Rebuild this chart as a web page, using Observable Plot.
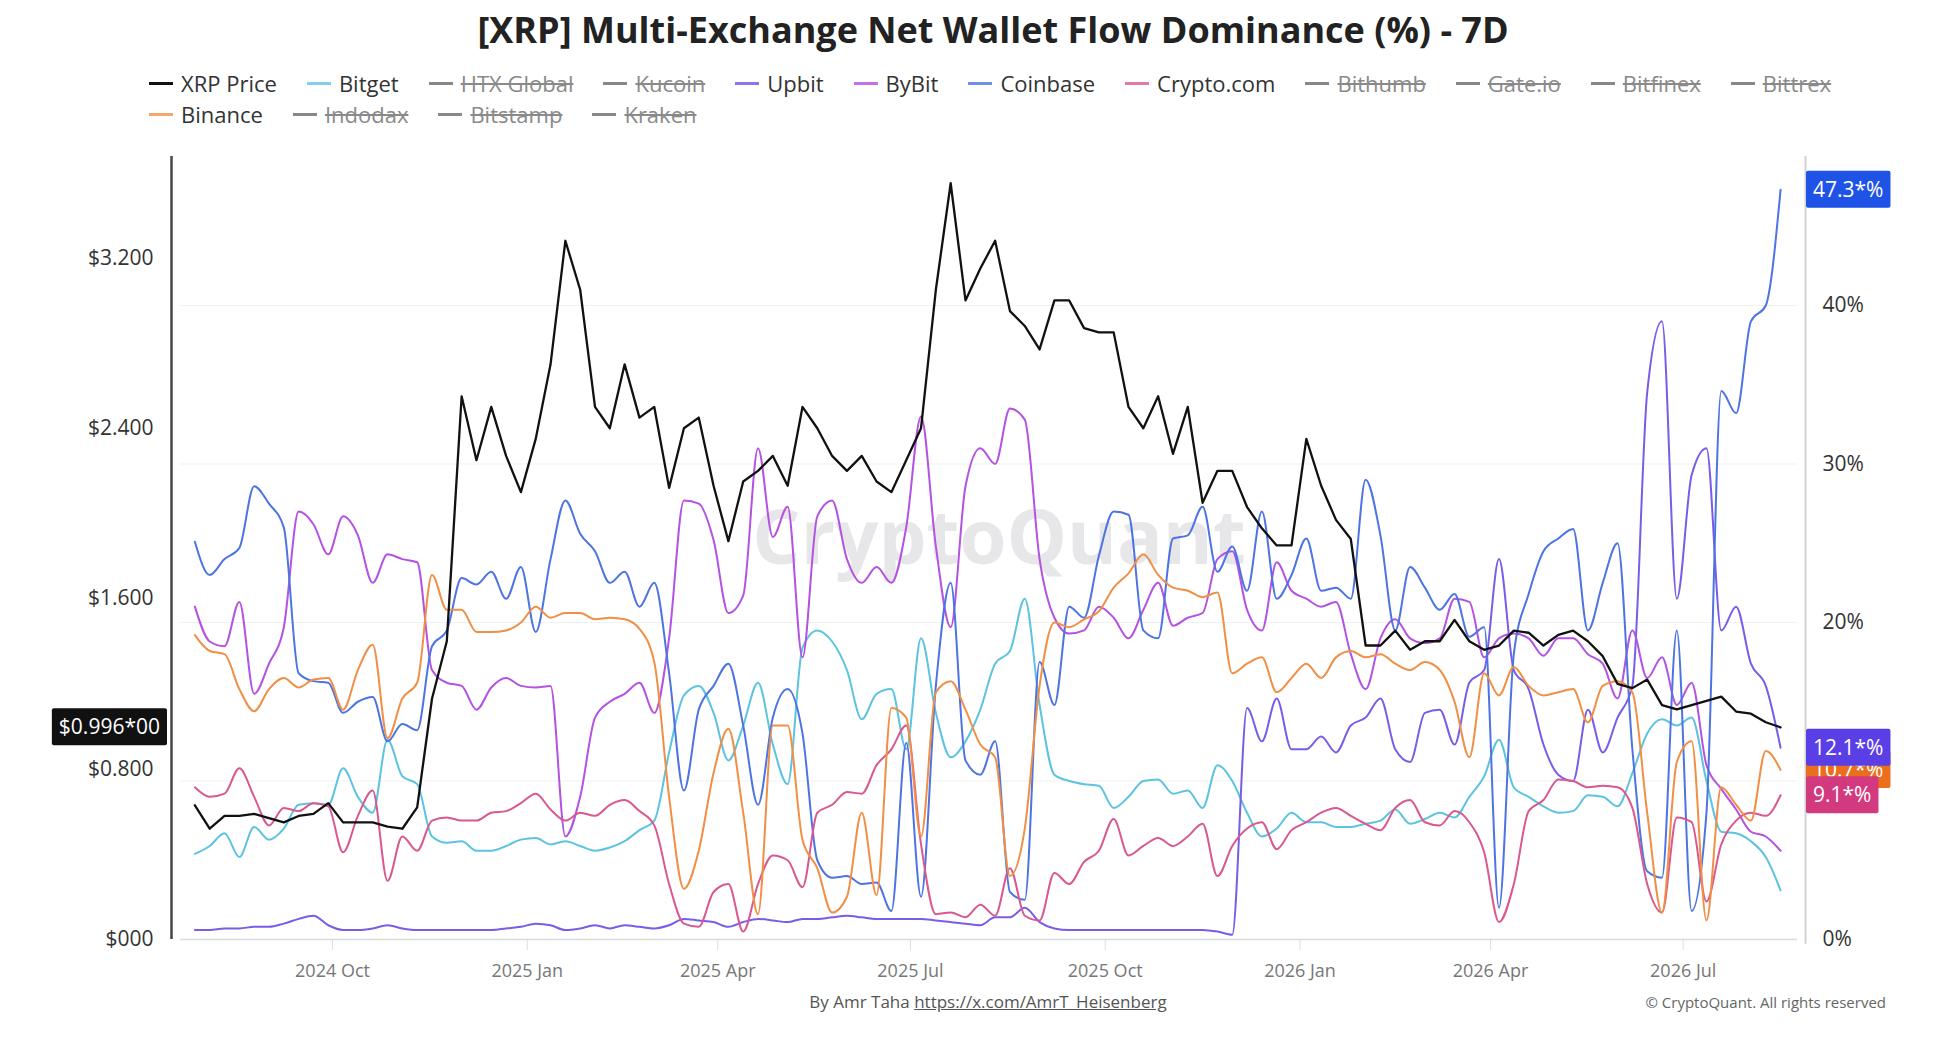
<!DOCTYPE html>
<html><head><meta charset="utf-8">
<script src="https://cdn.jsdelivr.net/npm/d3@7"></script>
<script src="https://cdn.jsdelivr.net/npm/@observablehq/plot@0.6"></script>
<style>
body{margin:0;background:#fff;width:1957px;height:1057px;position:relative;overflow:hidden;font-family:"Open Sans",sans-serif;}
#title{position:absolute;left:0;width:1986px;top:8px;text-align:center;font-weight:700;font-size:36px;color:#222;line-height:44px;}
.row{position:absolute;left:149px;height:30px;line-height:30px;font-size:22px;white-space:nowrap;display:flex;align-items:center;}
.item{display:inline-flex;align-items:center;margin-right:30px;color:#333;}
.sw{width:24px;height:3px;margin-right:8px;display:inline-block;}
.off{color:#8a8a8a;text-decoration:line-through;}
#chart{position:absolute;left:0;top:130px;}
#cap{position:absolute;left:0;width:1976px;top:990px;text-align:center;font-size:17px;color:#555;}
#cap a{color:#555;text-decoration:underline;}
#copy{position:absolute;right:71px;top:992px;font-size:15px;color:#666;}
</style></head>
<body>
<div id="title">[XRP] Multi-Exchange Net Wallet Flow Dominance (%) - 7D</div>
<div class="row" id="row1" style="top:68px"></div>
<div class="row" id="row2" style="top:99px"></div>
<div id="chart"></div>
<div id="cap">By Amr Taha <a>https://x.com/AmrT_Heisenberg</a></div>
<div id="copy">© CryptoQuant. All rights reserved</div>
<script>
// ---------- data (weekly samples) ----------
const startDate = "2024-07-28";
const priceUSD = [0.63,0.52,0.58,0.58,0.59,0.57,0.55,0.58,0.59,0.64,0.55,0.55,0.55,0.53,0.52,0.62,1.13,1.40,2.55,2.25,2.50,2.27,2.10,2.35,2.70,3.28,3.05,2.50,
 2.40,2.70,2.45,2.50,2.12,2.40,2.45,2.13,1.87,2.15,2.20,2.27,2.13,2.50,2.40,2.27,2.20,2.27,2.15,2.10,2.25,2.40,3.05,3.55,3.00,3.15,
 3.28,2.95,2.88,2.77,3.00,3.00,2.87,2.85,2.85,2.50,2.40,2.55,2.28,2.50,2.05,2.20,2.20,2.03,1.93,1.85,1.85,2.35,2.13,1.97,1.88,1.38,1.38,1.45,
 1.36,1.40,1.40,1.50,1.40,1.36,1.38,1.45,1.44,1.38,1.43,1.45,1.40,1.33,1.20,1.18,1.22,1.10,1.08,1.10,1.12,1.14,1.07,1.06,1.02,0.996];
const bitget = [5.4,5.9,6.7,5.2,7.1,6.3,7.0,8.5,8.6,8.5,10.8,9.0,8.0,12.6,10.3,9.8,6.5,6.1,6.2,5.6,5.6,5.9,6.3,6.4,6.0,6.2,5.9,5.6,
 5.8,6.2,6.9,7.5,11.8,15.4,16.0,14.3,11.3,13.5,16.2,12.3,9.8,18.4,19.5,18.8,17.0,13.9,15.5,15.8,12.0,19.0,14.3,11.5,12.5,14.5,
 17.4,18.2,21.5,14.8,10.4,10.0,9.8,9.7,8.3,9.0,10.0,10.1,9.2,9.4,8.3,11.0,10.0,8.0,6.5,7.0,8.0,7.4,7.4,7.1,7.1,7.3,7.5,8.2,
 7.3,7.6,8.0,7.7,9.0,10.3,12.6,9.6,9.0,8.4,8.0,8.1,9.1,9.0,8.4,10.5,13.0,13.9,13.5,14.0,10.0,6.8,6.7,6.2,5.2,3.1];
const upbit = [0.6,0.6,0.7,0.7,0.8,0.8,1.0,1.3,1.5,0.9,0.6,0.6,0.7,0.9,0.7,0.6,0.6,0.6,0.6,0.6,0.6,0.7,0.8,1.0,0.9,0.6,0.7,0.9,
 0.7,0.9,0.8,0.7,0.9,1.3,1.2,1.1,0.8,1.1,1.3,1.2,1.1,1.3,1.3,1.4,1.5,1.4,1.3,1.3,1.3,1.3,1.2,1.1,1.0,0.9,
 1.4,1.4,2.0,1.1,0.7,0.6,0.6,0.6,0.6,0.6,0.6,0.6,0.6,0.6,0.6,0.5,0.3,14.6,12.5,15.2,12.0,12.0,12.8,11.8,13.5,14.0,15.2,12.0,
 11.2,14.3,14.5,12.3,16.2,17.0,24.0,17.0,15.8,12.3,10.4,10.0,14.5,11.8,14.0,16.0,34.5,39.0,21.5,29.3,31.0,19.5,21.0,17.4,16.0,12.1];
const bybit = [21.0,18.8,18.5,21.3,15.5,17.4,19.7,27.0,26.2,24.3,26.7,25.5,22.5,24.3,24.0,23.8,17.0,16.2,16.0,14.5,15.9,16.5,16.0,15.9,16.0,6.5,9.0,14.0,
 15.0,15.5,16.2,14.3,19.0,27.7,27.5,25.2,20.6,21.7,31.0,25.4,27.3,17.8,26.7,27.7,24.0,22.5,23.5,22.5,26.0,33.0,24.8,19.7,28.6,31.0,
 30.0,33.5,32.8,24.0,20.3,19.3,19.5,21.0,20.3,19.0,20.8,22.5,19.8,20.3,20.6,24.0,24.5,20.8,19.5,23.8,22.0,21.5,21.0,21.3,18.0,15.8,19.0,20.2,
 19.0,18.7,19.0,21.5,21.3,17.8,19.0,19.3,19.0,17.9,19.0,19.0,18.0,17.4,15.2,19.5,16.5,17.8,14.8,16.2,11.0,9.5,8.2,6.8,6.5,5.6];
const coinbase = [25.1,23.0,24.0,24.7,28.6,27.5,26.0,16.8,16.3,16.2,14.3,15.0,15.3,12.5,13.6,13.2,18.5,19.5,22.8,22.4,23.2,21.5,23.5,19.4,24.0,27.7,25.6,24.5,
 22.5,23.2,21.0,22.5,16.8,9.4,14.5,16.0,17.4,13.5,8.5,14.0,15.8,13.0,5.0,3.9,4.0,3.5,3.6,1.8,12.4,2.7,16.0,22.5,11.3,10.4,
 12.5,3.0,2.5,17.5,14.8,21.0,20.3,24.2,27.0,26.8,19.5,19.0,25.3,25.5,27.3,23.2,24.8,22.0,27.0,21.5,23.0,25.3,22.0,22.2,21.5,29.0,25.5,19.5,
 23.5,22.2,20.8,21.8,19.1,19.7,2.0,18.0,21.8,24.5,25.3,25.9,19.5,22.5,25.0,12.0,4.3,3.9,19.5,1.8,8.0,34.6,33.2,39.0,40.0,47.3];
const cryptoCom = [9.6,9.0,9.2,10.8,9.0,7.2,8.3,8.1,8.6,8.4,5.5,7.8,9.4,3.7,6.5,5.6,7.5,7.7,7.5,7.5,8.0,8.1,8.6,9.2,8.2,7.5,8.0,7.8,
 8.5,8.8,8.1,7.2,3.5,1.0,0.8,3.0,3.5,0.5,3.5,5.3,5.0,3.3,8.0,8.5,9.3,9.2,11.0,12.0,13.5,6.0,1.6,1.7,1.4,2.2,
 1.5,4.5,1.5,1.2,4.2,3.5,4.9,5.6,7.6,5.3,5.9,6.4,5.9,6.5,7.3,4.0,5.9,7.0,7.4,5.7,6.9,7.4,8.0,8.3,7.8,7.3,6.9,8.3,
 8.8,7.4,7.2,8.1,7.4,5.5,1.1,3.5,8.1,8.8,10.1,10.0,9.6,9.7,9.6,8.3,3.5,1.7,7.7,7.4,2.4,6.0,7.5,8.0,7.8,9.1];
const binance = [19.2,18.2,18.0,15.8,14.4,15.8,16.5,15.9,16.4,16.5,14.5,17.0,18.6,12.7,15.2,16.2,23.0,20.8,20.8,19.4,19.4,19.5,20.0,21.0,20.3,20.6,20.6,20.2,
 20.3,20.2,19.6,17.5,9.0,3.2,5.6,10.5,13.3,8.0,1.6,13.5,13.5,6.3,4.5,1.7,2.7,8.0,2.8,14.6,14.0,6.5,15.6,16.3,14.5,12.3,
 11.5,4.0,7.0,16.0,20.0,19.7,20.2,20.7,22.2,23.1,24.3,23.0,22.2,22.0,21.6,21.9,16.8,17.4,17.8,15.6,16.5,17.4,16.5,17.8,18.2,17.8,18.0,17.4,
 17.0,17.5,17.0,15.0,11.5,16.8,15.4,17.2,16.0,15.4,15.6,15.8,13.7,16.0,16.3,15.6,8.0,1.7,11.2,12.5,1.2,9.6,8.5,7.5,11.9,10.7];

const priceTicks = [0, 0.8, 1.6, 2.4, 3.2];
const priceTickLabels = ["$000", "$0.800", "$1.600", "$2.400", "$3.200"];
const pctTicks = [0, 10, 20, 30, 40];
const xTickDates = ["2024-10-01","2025-01-01","2025-04-01","2025-07-01","2025-10-01","2026-01-01","2026-04-01","2026-07-01"];

const legendRow1 = [["XRP Price","#111",true],["Bitget","#7fd0e8",true],["HTX Global","#888",false],["Kucoin","#888",false],["Upbit","#8d74ea",true],["ByBit","#c271e8",true],["Coinbase","#6f8fe6",true],["Crypto.com","#e27aa7",true],["Bithumb","#888",false],["Gate.io","#888",false],["Bitfinex","#888",false],["Bittrex","#888",false]];
const legendRow2 = [["Binance","#f3a86c",true],["Indodax","#888",false],["Bitstamp","#888",false],["Kraken","#888",false]];

// ---------- legend ----------
function fillRow(id, items){
  const row = document.getElementById(id);
  for (const [name,color,on] of items){
    const it = document.createElement("span"); it.className = "item";
    const sw = document.createElement("span"); sw.className="sw"; sw.style.background = color;
    const lb = document.createElement("span"); lb.textContent = name; if(!on) lb.className="off";
    it.appendChild(sw); it.appendChild(lb); row.appendChild(it);
  }
}
fillRow("row1", legendRow1); fillRow("row2", legendRow2);

// ---------- chart ----------
const start = new Date(startDate + "T00:00:00Z");
const dates = priceUSD.map((_, i) => d3.utcDay.offset(start, 7 * i));
const K = 13.44;            // $1 on the left axis equals 13.44 % on the right axis
const yTop = 49.4;
const xDomain = [new Date("2024-07-21T05:00:00Z"), new Date("2026-08-24T00:00:00Z")];

const series = [
  {name:"Bitget", values:bitget, color:"#5cc3e0"},
  {name:"Upbit", values:upbit, color:"#7a5ce8"},
  {name:"ByBit", values:bybit, color:"#b452e2"},
  {name:"Coinbase", values:coinbase, color:"#4d74e2"},
  {name:"Crypto.com", values:cryptoCom, color:"#d9588f"},
  {name:"Binance", values:binance, color:"#f08f45"}
];
const rows = s => dates.map((d, i) => ({date: d, v: s.values[i]}));
const priceRows = dates.map((d, i) => ({date: d, v: priceUSD[i] * K}));
const labelOf = new Map(priceTicks.map((p, i) => [Math.round(p * K * 1000), priceTickLabels[i]]));

const plot = Plot.plot({
  width: 1957, height: 860,
  marginTop: 26, marginBottom: 51, marginLeft: 180, marginRight: 160,
  style: {fontFamily: "'Open Sans', sans-serif", background: "transparent"},
  x: {type: "utc", domain: xDomain},
  y: {domain: [0, yTop]},
  marks: [
    Plot.gridY([10, 20, 30, 40], {stroke: "#000", strokeOpacity: 0.06}),
    Plot.text(["CryptoQuant"], {frameAnchor: "middle", dx: 10, dy: -8, fontSize: 76, fontWeight: 700, fill: "#c9c9d0", fillOpacity: 0.45}),
    Plot.ruleY([0], {stroke: "#dcdcdc", strokeWidth: 1.5}),
    ...series.map(s => Plot.lineY(rows(s), {x: "date", y: "v", stroke: s.color, strokeWidth: 2, curve: "monotone-x"})),
    Plot.lineY(priceRows, {x: "date", y: "v", stroke: "#111", strokeWidth: 2.3}),
    Plot.axisX(xTickDates.map(d => new Date(d + "T00:00:00Z")), {tickFormat: d3.utcFormat("%Y %b"), tickSize: 11, tickPadding: 14, fontSize: 18, stroke: "#dedede", fill: "#777", label: null}),
    Plot.axisY(priceTicks.map(p => p * K), {anchor: "left", tickSize: 0, tickPadding: 27, fontSize: 21, fill: "#333", tickFormat: d => labelOf.get(Math.round(d * 1000)), label: null}),
    Plot.axisY(pctTicks, {anchor: "right", tickSize: 0, tickPadding: 25, fontSize: 21, fill: "#333", tickFormat: d => d + "%", label: null}),
    Plot.ruleX([{x: xDomain[0], y1: 0, y2: yTop}], {x: "x", y1: "y1", y2: "y2", dx: -9, stroke: "#454545", strokeWidth: 2.5}),
    Plot.ruleX([{x: xDomain[1], y1: -0.3, y2: yTop}], {x: "x", y1: "y1", y2: "y2", dx: 8, stroke: "#d2d2d2", strokeWidth: 2})
  ]
});
document.getElementById("chart").appendChild(plot);

// ---------- last-value badges (placed with the plot's own scales) ----------
const ys = plot.scale("y"), xs = plot.scale("x");
const svg = d3.select(plot);
const g = svg.append("g").attr("font-family", "'Open Sans', sans-serif").attr("font-size", 21).attr("text-anchor", "start");
function badge(value, label, fill, side){
  const cy = ys.apply(value);
  const grp = g.append("g");
  const r = grp.append("rect").attr("fill", fill).attr("rx", 2);
  const t = grp.append("text").text(label).attr("fill", "#fff").attr("text-anchor", "start").attr("dy", "0.35em").attr("y", cy);
  const w = t.node().getComputedTextLength() + 14, h = 37;
  let x0;
  if (side === "right") x0 = xs.apply(xDomain[1]) + 9;
  else x0 = xs.apply(xDomain[0]) - 13 - w;
  r.attr("x", x0).attr("y", cy - h / 2).attr("width", w).attr("height", h);
  t.attr("x", x0 + 7);
}
const last = a => a[a.length - 1];
badge(last(binance), last(binance).toFixed(1) + "*%", "#ea6e1c", "right");
badge(last(upbit), last(upbit).toFixed(1) + "*%", "#5a3ee6", "right");
badge(last(cryptoCom), last(cryptoCom).toFixed(1) + "*%", "#d3397e", "right");
badge(last(coinbase), last(coinbase).toFixed(1) + "*%", "#1f52e6", "right");
badge(last(priceUSD) * K, "$" + last(priceUSD).toFixed(3) + "*00", "#111", "left");
</script>
</body></html>
